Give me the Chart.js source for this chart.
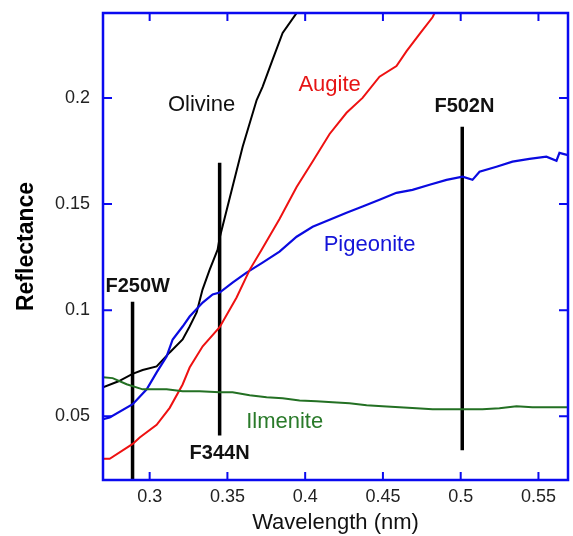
<!DOCTYPE html>
<html>
<head>
<meta charset="utf-8">
<script src="https://cdn.jsdelivr.net/npm/chart.js@4.4.0/dist/chart.umd.min.js"></script>
<style>
  body { margin: 0; background: #fff; }
  #wrap { width: 573px; height: 536px; }
</style>
</head>
<body>
<div id="wrap"><canvas id="spectraChart" width="573" height="536"></canvas></div>
<script>
// reflectance spectra, values (x = wavelength, y = reflectance)
const olivineX = [0.270, 0.280, 0.289, 0.2955, 0.3045, 0.3129, 0.3212, 0.3257, 0.3302, 0.334, 0.3386, 0.3437, 0.345, 0.3533, 0.3598, 0.3688, 0.3726, 0.379, 0.3855, 0.3945, 0.400];
const olivineY = [0.0637, 0.0665, 0.0700, 0.0718, 0.0735, 0.0801, 0.0862, 0.0923, 0.0989, 0.1097, 0.1191, 0.1285, 0.1340, 0.1582, 0.1770, 0.1990, 0.2052, 0.2179, 0.2306, 0.2400, 0.2520];

const augiteX = [0.270, 0.2743, 0.2891, 0.2936, 0.3045, 0.3129, 0.3212, 0.3257, 0.3341, 0.345, 0.3559, 0.3643, 0.372, 0.3835, 0.3945, 0.4048, 0.4157, 0.4266, 0.4369, 0.4478, 0.4587, 0.4652, 0.4735, 0.4819, 0.490];
const augiteY = [0.030, 0.030, 0.037, 0.040, 0.046, 0.054, 0.065, 0.073, 0.083, 0.092, 0.106, 0.119, 0.1285, 0.143, 0.158, 0.170, 0.183, 0.193, 0.200, 0.210, 0.215, 0.222, 0.230, 0.238, 0.250];

const pigeoniteX = [0.270, 0.2743, 0.2891, 0.2981, 0.3045, 0.3109, 0.3148, 0.3212, 0.3257, 0.3341, 0.3405, 0.345, 0.3533, 0.3623, 0.3726, 0.3835, 0.3945, 0.4048, 0.4157, 0.4266, 0.4369, 0.4478, 0.4587, 0.469, 0.480, 0.4909, 0.5012, 0.5076, 0.5121, 0.523, 0.5333, 0.5442, 0.5551, 0.5616, 0.5635, 0.569];
const pigeoniteY = [0.0486, 0.0495, 0.0557, 0.0627, 0.0707, 0.0782, 0.0862, 0.0923, 0.0970, 0.1036, 0.1074, 0.1083, 0.1130, 0.1177, 0.1224, 0.1276, 0.1346, 0.1393, 0.1426, 0.1459, 0.1488, 0.1520, 0.1553, 0.1567, 0.1591, 0.1614, 0.1629, 0.1614, 0.1652, 0.1676, 0.1700, 0.1713, 0.1723, 0.1704, 0.1741, 0.1730];

const ilmeniteX = [0.270, 0.2762, 0.2852, 0.2955, 0.3109, 0.3212, 0.3321, 0.345, 0.3533, 0.3643, 0.3752, 0.3855, 0.3964, 0.4073, 0.4176, 0.4285, 0.4395, 0.4497, 0.4607, 0.4716, 0.4819, 0.4928, 0.5037, 0.514, 0.5249, 0.5359, 0.5461, 0.5571, 0.569];
const ilmeniteY = [0.0684, 0.0680, 0.0651, 0.0627, 0.0627, 0.0618, 0.0618, 0.0613, 0.0613, 0.0599, 0.0590, 0.0585, 0.0575, 0.0571, 0.0566, 0.0561, 0.0552, 0.0547, 0.0543, 0.0538, 0.0533, 0.0533, 0.0533, 0.0533, 0.0538, 0.0547, 0.0543, 0.0543, 0.0543];

// filter bandpass markers
const filterNames = ['F250W', 'F344N', 'F502N'];
const filterX = [0.289, 0.345, 0.501];
const filterTop = [0.104, 0.1694, 0.1864];
const filterBottom = [0.020, 0.041, 0.034];

// tick labels
const xTicks = [0.3, 0.35, 0.4, 0.45, 0.5, 0.55];
const yTicks = [0.05, 0.1, 0.15, 0.2];

const pairs = (xs, ys) => xs.map((v, i) => ({x: v, y: ys[i]}));

const labelSpots = [
    {text: 'Olivine', x: 0.3334, y: 0.1967, color: '#111', bold: false},
    {text: 'Augite', x: 0.4157, y: 0.2061, color: '#e61414', bold: false},
    {text: 'Pigeonite', x: 0.4414, y: 0.1309, color: '#1414d8', bold: false},
    {text: 'Ilmenite', x: 0.3868, y: 0.0472, color: '#2a7a2a', bold: false},
    {text: filterNames[0], x: 0.2923, y: 0.1111, color: '#111', bold: true},
    {text: filterNames[1], x: 0.345, y: 0.0326, color: '#111', bold: true},
    {text: filterNames[2], x: 0.5024, y: 0.1958, color: '#111', bold: true}
];

//draws the text labels inside the plot
const curveLabels = {
    id: 'curveLabels',
    afterDatasetsDraw(chart) {
        const {ctx, scales: {x, y}} = chart;
        ctx.save();
        ctx.textAlign = 'center';
        ctx.textBaseline = 'middle';
        labelSpots.forEach(l => {
            ctx.font = l.bold ? 'bold 20px "Liberation Sans", Arial, sans-serif' : '22px "Liberation Sans", Arial, sans-serif';
            ctx.fillStyle = l.color;
            ctx.fillText(l.text, x.getPixelForValue(l.x), y.getPixelForValue(l.y));
        });
        ctx.restore();
    }
};

// blue box with inward ticks on all four sides
const frameTicks = {
    id: 'frameTicks',
    afterDraw(chart) {
        const {ctx, chartArea: a, scales: {x, y}} = chart;
        ctx.save();
        ctx.strokeStyle = '#0a0af0';
        ctx.lineWidth = 2;
        ctx.beginPath();
        x.ticks.forEach(t => {
            const px = x.getPixelForValue(t.value);
            ctx.moveTo(px, a.bottom); ctx.lineTo(px, a.bottom - 8);
            ctx.moveTo(px, a.top); ctx.lineTo(px, a.top + 8);
        });
        y.ticks.forEach(t => {
            const py = y.getPixelForValue(t.value);
            ctx.moveTo(a.left, py); ctx.lineTo(a.left + 9, py);
            ctx.moveTo(a.right, py); ctx.lineTo(a.right - 9, py);
        });
        ctx.stroke();
        ctx.lineWidth = 2.5;
        ctx.strokeRect(a.left, a.top, a.right - a.left, a.bottom - a.top);
        ctx.restore();
    }
};

const lineStyle = (label, data, color, width) => ({
    label: label,
    data: data,
    borderColor: color,
    borderWidth: width,
    pointRadius: 0,
    tension: 0,
    fill: false,
    showLine: true
});

const datasets = [
    lineStyle('Ilmenite', pairs(ilmeniteX, ilmeniteY), '#237023', 2),
    lineStyle('Augite', pairs(augiteX, augiteY), '#ee1111', 2),
    lineStyle('Pigeonite', pairs(pigeoniteX, pigeoniteY), '#0a0ae0', 2.2),
    lineStyle('Olivine', pairs(olivineX, olivineY), '#000', 2)
];
filterNames.forEach((name, i) => {
    datasets.push(lineStyle(name, [{x: filterX[i], y: filterBottom[i]}, {x: filterX[i], y: filterTop[i]}], '#000', 3.5));
});

const tickFont = {family: '"Liberation Sans", Arial, sans-serif', size: 18};
const fmt = v => String(Number(v.toFixed(2)));

const ctx = document.getElementById('spectraChart').getContext('2d');
const spectraChart = new Chart(ctx, {
    type: 'scatter',
    data: {datasets: datasets},
    options: {
        responsive: false,
        animation: false,
        layout: {padding: {left: 0, right: 5, top: 13, bottom: 0}},
        plugins: {
            legend: {display: false},
            tooltip: {enabled: false}
        },
        scales: {
            x: {
                type: 'linear',
                min: 0.27,
                max: 0.569,
                afterBuildTicks: s => { s.ticks = xTicks.map(v => ({value: v})); },
                afterFit: s => { s.height = 56; s.paddingLeft = 0; s.paddingRight = 0; },
                grid: {display: false, drawTicks: false},
                border: {display: false},
                ticks: {font: tickFont, color: '#222', padding: 6, maxRotation: 0, callback: fmt},
                title: {display: true, text: 'Wavelength (nm)', color: '#111',
                        font: {family: '"Liberation Sans", Arial, sans-serif', size: 22},
                        padding: {top: 0, bottom: 0}}
            },
            y: {
                type: 'linear',
                min: 0.02,
                max: 0.24,
                afterBuildTicks: s => { s.ticks = yTicks.map(v => ({value: v})); },
                afterFit: s => { s.width = 103; s.paddingTop = 0; s.paddingBottom = 0; },
                grid: {display: false, drawTicks: false},
                border: {display: false},
                ticks: {font: tickFont, color: '#222', padding: 13, callback: fmt},
                title: {display: true, text: 'Reflectance', color: '#000',
                        font: {family: '"Liberation Sans", Arial, sans-serif', size: 23, weight: 'bold'},
                        padding: {top: 13, bottom: 0}}
            }
        }
    },
    plugins: [curveLabels, frameTicks]
});
</script>
</body>
</html>
